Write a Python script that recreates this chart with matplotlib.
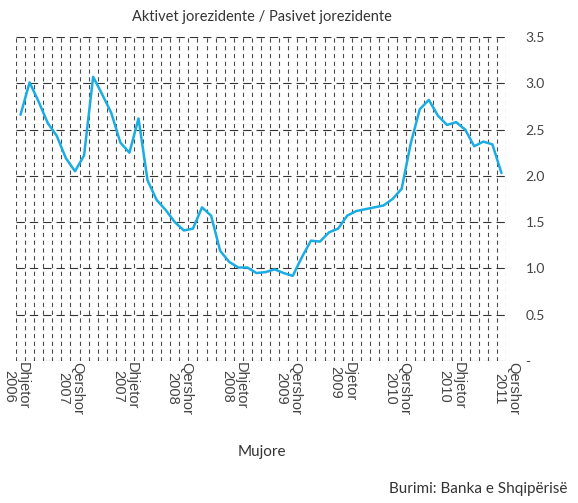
import matplotlib
matplotlib.use("Agg")
import matplotlib.pyplot as plt
import numpy as np

title = "Aktivet jorezidente / Pasivet jorezidente"
xlabel = "Mujore"
source = "Burimi: Banka e Shqipërisë"

# monthly values, Dec 2006 .. May 2011
values = [2.66, 3.01, 2.80, 2.57, 2.43, 2.19, 2.05, 2.22, 3.07, 2.88,
          2.68, 2.36, 2.25, 2.62, 1.95, 1.74, 1.63, 1.50, 1.41, 1.43,
          1.66, 1.57, 1.19, 1.07, 1.01, 1.01, 0.95, 0.96, 0.99, 0.95,
          0.92, 1.12, 1.30, 1.29, 1.39, 1.43, 1.57, 1.62, 1.64, 1.66,
          1.68, 1.75, 1.86, 2.35, 2.72, 2.82, 2.65, 2.55, 2.58, 2.50,
          2.32, 2.37, 2.34, 2.03]
tick_labels = ["Dhjetor\n2006", "Qershor\n2007", "Dhjetor\n2007", "Qershor\n2008",
               "Dhjetor\n2008", "Qershor\n2009", "Djetor\n2009", "Qershor\n2010",
               "Dhjetor\n2010", "Qershor\n2011"]
y_ticks = [0, 0.5, 1.0, 1.5, 2.0, 2.5, 3.0, 3.5]
y_tick_labels = ["-", "0.5", "1.0", "1.5", "2.0", "2.5", "3.0", "3.5"]

fig = plt.figure(figsize=(5.78, 5.03), dpi=100)
ax = fig.add_axes([16/578, 142/503, 490/578, 324/503])

n = len(values)
x = np.arange(n) + 0.5
ax.set_xlim(0, n)
ax.set_ylim(0, 3.5)

for xv in range(n + 1):
    ax.axvline(xv, color="#4a4a4a", lw=0.8, ls=(0, (3.8, 3.2)), zorder=1)
for yv in y_ticks:
    ax.axhline(yv, color="#333333", lw=0.8, ls=(0, (7.5, 4.5)), zorder=1)

ax.plot(x, values, color="#1aace3", lw=1.8, zorder=3, solid_joinstyle="round",
        solid_capstyle="round")

for s in ax.spines.values():
    s.set_visible(False)

ax.yaxis.tick_right()
ax.set_yticks(y_ticks)
ax.set_yticklabels(y_tick_labels, fontsize=10, color="#444444", family="Lato")
ax.tick_params(axis="y", length=0, pad=14)

ax.set_xticks(range(0, n + 1, 6))
ax.set_xticklabels(tick_labels, rotation=270, ha="center", va="top",
                   fontsize=10.5, color="#444444", family="Liberation Sans",
                   linespacing=1.0)
ax.tick_params(axis="x", length=0, pad=1)

fig.text(262/578, 1 - 17/503, title, ha="center", va="center", fontsize=10.5,
         color="#333333", family="Lato")
fig.text(262/578, 1 - 452/503, xlabel, ha="center", va="center", fontsize=11,
         color="#333333", family="Lato")
fig.text(567/578, 1 - 489/503, source, ha="right", va="center", fontsize=11,
         color="#333333", family="Lato")

fig.savefig("out.png", dpi=100)
